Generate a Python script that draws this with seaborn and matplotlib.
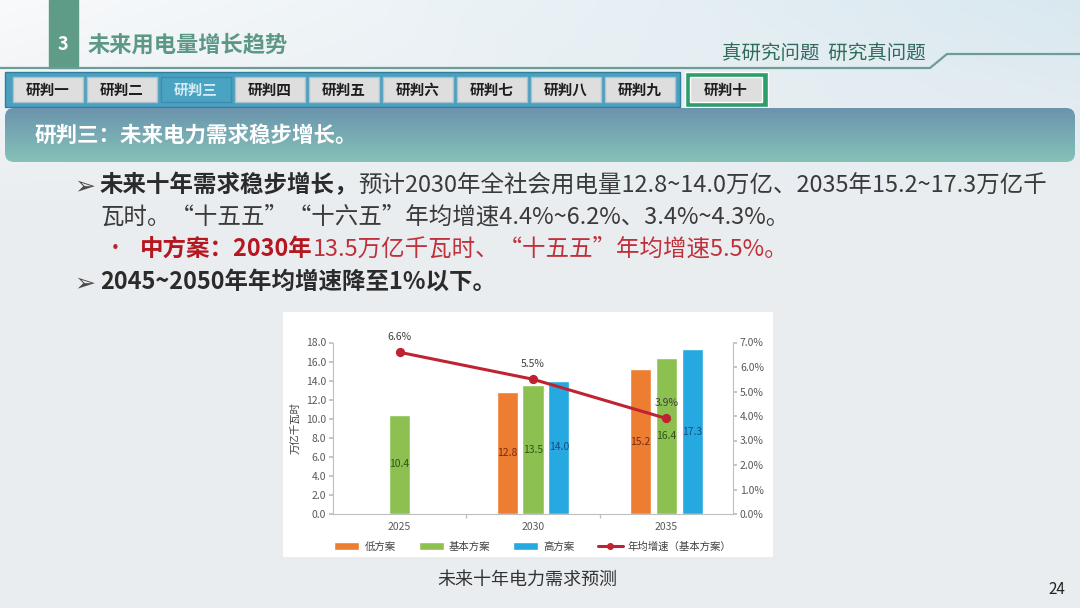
import numpy as np
import pandas as pd
import matplotlib
matplotlib.use("Agg")
import matplotlib.pyplot as plt
from matplotlib.patches import Rectangle, FancyBboxPatch, Patch
from matplotlib.lines import Line2D
import seaborn as sns

# chart data
years = ["2025", "2030", "2035"]
schemes = ["低方案", "基本方案", "高方案"]
low_plan = [np.nan, 12.8, 15.2]
base_plan = [10.4, 13.5, 16.4]
high_plan = [np.nan, 14.0, 17.3]
growth = [6.6, 5.5, 3.9]          # 年均增速（基本方案）, %
left_ticks = [0, 2, 4, 6, 8, 10, 12, 14, 16, 18]
right_ticks = [0, 1, 2, 3, 4, 5, 6, 7]

tabs = ["研判一", "研判二", "研判三", "研判四", "研判五", "研判六", "研判七", "研判八", "研判九"]

bar_colors = ["#ed7d31", "#8cc152", "#25a9e0"]
label_colors = ["#7a2a10", "#2f5516", "#144f80"]
line_color = "#bf2230"

sns.set_theme(style="white")
plt.rcParams["font.family"] = ["Noto Sans CJK SC", "DejaVu Sans"]

fig = plt.figure(figsize=(10.8, 6.08), dpi=100)

# slide background, drawn in pixel coordinates
bg = fig.add_axes([0, 0, 1, 1])
bg.set_xlim(0, 1080)
bg.set_ylim(608, 0)
bg.axis("off")

yy, xx = np.mgrid[0:608, 0:1080]
base = np.array([0.918, 0.933, 0.945])
top_l = np.array([0.975, 0.980, 0.985])
top_r = np.array([0.850, 0.910, 0.940])
w_top = np.clip(1 - yy / 200.0, 0, 1)[..., None]
hx = (xx / 1080.0)[..., None]
top_col = top_l * (1 - hx) + top_r * hx
img = base * (1 - w_top) + top_col * w_top
bg.imshow(img, extent=(0, 1080, 608, 0), aspect="auto", zorder=0)

# header
bg.add_patch(Rectangle((49, 0), 29, 68, color="#5e9c88", zorder=2))
bg.text(63, 45, "3", color="white", fontsize=13, fontweight="bold", ha="center", va="center", zorder=3)
bg.text(88, 45, "未来用电量增长趋势", color="#5b9886", fontsize=16, fontweight="bold", va="center", zorder=3)
bg.plot([0, 930, 947, 1080], [68, 68, 54, 54], color="#6d9d97", lw=1.6, zorder=2)
bg.text(722, 53, "真研究问题  研究真问题", color="#2d6b5a", fontsize=14, va="center", zorder=3)

# tab bar
bg.add_patch(Rectangle((5, 72), 675, 35, facecolor="#4b9fbf", edgecolor="#2f7f9f", lw=1, zorder=2))
for i, t in enumerate(tabs):
    active = i == 2
    bg.add_patch(Rectangle((13 + 74 * i, 77), 70, 25,
                           facecolor="#4aa3c3" if active else "#dedede",
                           edgecolor="#3a8fb0" if active else "#a9c4cf", lw=1, zorder=3))
    bg.text(13 + 74 * i + 35, 89.5, t, ha="center", va="center", fontsize=10.5, fontweight="bold",
            color="#d4ecf4" if active else "#1e1e1e", zorder=4)
bg.add_patch(Rectangle((685, 72), 83, 35, facecolor="#2e9e6a", zorder=2))
bg.add_patch(Rectangle((690, 77), 72, 25, facecolor="#dedede", zorder=3))
bg.text(726, 89.5, "研判十", ha="center", va="center", fontsize=10.5, fontweight="bold", color="#1e1e1e", zorder=4)

# banner
band = FancyBboxPatch((5, 108), 1070, 54, boxstyle="round,pad=0,rounding_size=9",
                      facecolor="none", edgecolor="none", zorder=2)
bg.add_patch(band)
grad = np.linspace(0, 1, 60)[:, None, None]
c1 = np.array([0.42, 0.58, 0.68])
c2 = np.array([0.52, 0.76, 0.72])
gimg = c1 * (1 - grad) + c2 * grad
gim = bg.imshow(gimg, extent=(5, 1075, 162, 108), aspect="auto", zorder=2)
gim.set_clip_path(band)
bg.text(35, 135, "研判三：未来电力需求稳步增长。", color="white", fontsize=15.5, fontweight="bold",
        va="center", zorder=3)


def text_line(x, y, parts, size=16.9):
    prev = None
    for s, weight, col in parts:
        if prev is None:
            prev = bg.text(x, y, s, fontsize=size, fontweight=weight, color=col, va="center", ha="left", zorder=3)
        else:
            prev = bg.annotate(s, xy=(1, 0.5), xycoords=prev, fontsize=size, fontweight=weight,
                               color=col, va="center", ha="left", zorder=3)


body = "#3a3a3a"
bg.text(74, 186, "➢", fontsize=18, color="#4a4a4a", va="center", family=["DejaVu Sans"])
text_line(100, 185, [("未来十年需求稳步增长，", "bold", "#2b2b2b"),
                     ("预计2030年全社会用电量12.8~14.0万亿、2035年15.2~17.3万亿千", "normal", body)])
text_line(100, 217, [("瓦时。“十五五”“十六五”年均增速4.4%~6.2%、3.4%~4.3%。", "normal", body)])
bg.text(115, 249, "•", fontsize=15, color="#c0202a", va="center", ha="center")
text_line(140, 249, [("中方案：2030年", "bold", "#b5161f"),
                     ("13.5万亿千瓦时、“十五五”年均增速5.5%。", "normal", "#c0303a")])
bg.text(74, 283, "➢", fontsize=18, color="#4a4a4a", va="center", family=["DejaVu Sans"])
text_line(100, 282, [("2045~2050年年均增速降至1%以下。", "bold", "#2b2b2b")])

# white chart card
bg.add_patch(Rectangle((283, 312), 490, 245, facecolor="white", edgecolor="none", zorder=2))
bg.text(527, 580, "未来十年电力需求预测", fontsize=13, color="#333333", ha="center", va="center", zorder=3)
bg.text(1057, 590, "24", fontsize=11, color="#222222", ha="center", va="center", zorder=3)

# chart
df = pd.DataFrame({
    "year": years * 3,
    "scheme": [s for s in schemes for _ in years],
    "value": low_plan + base_plan + high_plan,
}).dropna()

ax = fig.add_axes([333 / 1080, (608 - 514) / 608, 400 / 1080, 171.5 / 608])
ax.patch.set_alpha(0)
sns.barplot(data=df, x="year", y="value", hue="scheme", order=years, hue_order=schemes,
            palette=bar_colors, saturation=1, width=0.58, gap=0.18, legend=False, ax=ax)
for cont, col in zip(ax.containers, label_colors):
    ax.bar_label(cont, fmt="%.1f", label_type="center", fontsize=7.5, color=col)

ax.set_ylim(0, 18)
ax.set_yticks(left_ticks)
ax.set_yticklabels([f"{v:.1f}" for v in left_ticks])
ax.set_ylabel("万亿千瓦时", fontsize=7.5, color="#404040", labelpad=4)
ax.set_xlabel("")
ax.set_xticks(range(len(years)))
ax.set_xticklabels(years)
ax.set_xticks([0.5, 1.5], minor=True)
ax.tick_params(axis="x", which="major", length=0, labelsize=7.5, labelcolor="#595959", pad=6)
ax.tick_params(axis="x", which="minor", length=3, color="#bfbfbf", direction="out", bottom=True)
ax.tick_params(axis="y", length=3, color="#bfbfbf", direction="out", left=True, labelsize=7.5,
               labelcolor="#595959", pad=2)
for side in ["top", "right"]:
    ax.spines[side].set_visible(False)
for side in ["left", "bottom"]:
    ax.spines[side].set_color("#bfbfbf")
    ax.spines[side].set_linewidth(0.8)

ax2 = ax.twinx()
sns.pointplot(x=years, y=growth, color=line_color, markers="o", linestyles="-",
              markersize=5, linewidth=2.2, ax=ax2)
ax2.set_ylim(0, 7)
ax2.set_yticks(right_ticks)
ax2.set_yticklabels([f"{v:.1f}%" for v in right_ticks])
ax2.tick_params(axis="y", length=3, color="#bfbfbf", direction="out", right=True, labelsize=7.5,
                labelcolor="#595959", pad=2)
ax2.set_ylabel("")
for side in ["top", "left", "bottom"]:
    ax2.spines[side].set_visible(False)
ax2.spines["right"].set_color("#bfbfbf")
ax2.spines["right"].set_linewidth(0.8)
for i, v in enumerate(growth):
    ax2.annotate(f"{v:.1f}%", (i, v), xytext=(0, 11), textcoords="offset points",
                 ha="center", va="center", fontsize=7.5, color="#404040")

handles = [Patch(facecolor=c, label=s) for c, s in zip(bar_colors, schemes)]
handles.append(Line2D([], [], color=line_color, lw=2.2, marker="o", markersize=4,
                      label="年均增速（基本方案）"))
ax.legend(handles=handles, loc="center", bbox_to_anchor=(0.5, -0.19), ncol=4, frameon=False,
          fontsize=7.5, handlelength=2.4, handleheight=0.8, columnspacing=2.2, handletextpad=0.5,
          labelcolor="#404040")

fig.savefig("out.png", dpi=100)
